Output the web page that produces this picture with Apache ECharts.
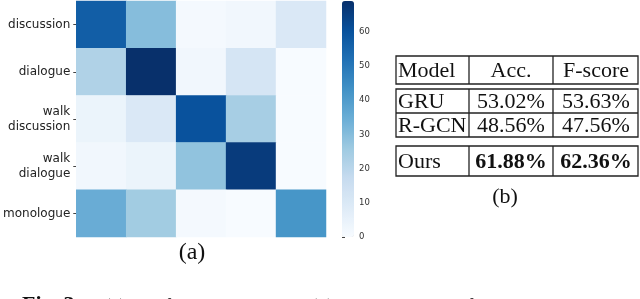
<!DOCTYPE html>
<html>
<head>
<meta charset="utf-8">
<script src="https://cdn.jsdelivr.net/npm/echarts@6/dist/echarts.min.js"></script>
<style>html,body{margin:0;padding:0;background:#fff;}#c{width:640px;height:299px;}</style>
</head>
<body>
<div id="c"></div>
<script>
// ---- data ----
const rowLabels = ['discussion', 'dialogue', 'walk\ndiscussion', 'walk\ndialogue', 'monologue'];
const colLabels = ['discussion', 'dialogue', 'walk discussion', 'walk dialogue', 'monologue'];
const rowDiscussion = [57, 30, 1, 2, 10];
const rowDialogue = [22, 69, 2, 12, 0];
const rowWalkDiscussion = [4, 10, 60, 24, 0];
const rowWalkDialogue = [2, 4, 28, 66, 0];
const rowMonologue = [35, 25, 1, 0, 42];
const colorbarTicks = [0, 10, 20, 30, 40, 50, 60];
const colorMax = 69;
const tableHeader = ['Model', 'Acc.', 'F-score'];
const tableModels = ['GRU', 'R-GCN', 'Ours'];
const tableAcc = ['53.02%', '48.56%', '61.88%'];
const tableF = ['53.63%', '47.56%', '62.36%'];
const panelA = '(a)';
const panelB = '(b)';
const caption = 'Fig. 3.';
const captionRest = '(a) Confusion matrix and (b) ablation study of our model.';

// ---- build ----
const matrix = [rowDiscussion, rowDialogue, rowWalkDiscussion, rowWalkDialogue, rowMonologue];
const heatData = [];
matrix.forEach((row, r) => row.forEach((v, c) => heatData.push([c, r, v])));
const blues = ['#f7fbff','#deebf7','#c6dbef','#9ecae1','#6baed6','#4292c6','#2171b5','#08519c','#08306b'];

// table layout
const colX = [396, 469, 553, 639];
const serif = '"Liberation Serif", "DejaVu Serif", serif';
const lineStyle = {stroke: '#222', lineWidth: 1.3, fill: null};
const blocks = [
  {top: 56, bottom: 84, rows: [[tableHeader[0], tableHeader[1], tableHeader[2], false]]},
  {top: 89, bottom: 137, rows: [[tableModels[0], tableAcc[0], tableF[0], false], [tableModels[1], tableAcc[1], tableF[1], false]]},
  {top: 146, bottom: 176, rows: [[tableModels[2], tableAcc[2], tableF[2], true]]}
];
const graphics = [];
blocks.forEach(b => {
  graphics.push({type: 'rect', shape: {x: colX[0], y: b.top, width: colX[3] - colX[0] - 1, height: b.bottom - b.top}, style: lineStyle, silent: true});
  graphics.push({type: 'line', shape: {x1: colX[1], y1: b.top, x2: colX[1], y2: b.bottom}, style: lineStyle, silent: true});
  graphics.push({type: 'line', shape: {x1: colX[2], y1: b.top, x2: colX[2], y2: b.bottom}, style: lineStyle, silent: true});
  const rh = (b.bottom - b.top) / b.rows.length;
  b.rows.forEach((row, i) => {
    if (i > 0) graphics.push({type: 'line', shape: {x1: colX[0], y1: b.top + rh * i, x2: colX[3] - 1, y2: b.top + rh * i}, style: lineStyle, silent: true});
    const cy = b.top + rh * i + rh / 2 + 1;
    graphics.push({type: 'text', x: colX[0] + 2, y: cy, style: {text: row[0], font: '22px ' + serif, fill: '#111', textAlign: 'left', textVerticalAlign: 'middle'}, silent: true});
    [1, 2].forEach(k => {
      graphics.push({type: 'text', x: (colX[k] + colX[k + 1]) / 2, y: cy, style: {text: row[k], font: (row[3] ? 'bold ' : '') + '22px ' + serif, fill: '#111', textAlign: 'center', textVerticalAlign: 'middle'}, silent: true});
    });
  });
});
graphics.push({type: 'text', x: 505, y: 197, style: {text: panelB, font: '22px ' + serif, fill: '#111', textAlign: 'center', textVerticalAlign: 'middle'}, silent: true});
graphics.push({type: 'text', x: 192, y: 253, style: {text: panelA, font: '24px ' + serif, fill: '#111', textAlign: 'center', textVerticalAlign: 'middle'}, silent: true});
graphics.push({type: 'text', x: 22, y: 294, style: {text: caption, font: 'bold 22px ' + serif, fill: '#111', textAlign: 'left', textVerticalAlign: 'top'}, silent: true});
graphics.push({type: 'text', x: 104, y: 297.5, style: {text: captionRest, font: '20px ' + serif, fill: '#333', textAlign: 'left', textVerticalAlign: 'top'}, silent: true});

const chart = echarts.init(document.getElementById('c'), null, {renderer: 'canvas'});
chart.setOption({
  animation: false,
  backgroundColor: '#fff',
  grid: [
    {left: 72, top: 1, width: 254, height: 236},
    {left: 342, top: 1, width: 12, height: 236}
  ],
  xAxis: [
    {type: 'category', gridIndex: 0, data: colLabels, show: false},
    {type: 'value', gridIndex: 1, show: false, min: 0, max: 1}
  ],
  yAxis: [
    {type: 'category', gridIndex: 0, data: rowLabels, inverse: true,
     axisLine: {show: false}, splitLine: {show: false},
     axisTick: {show: true, alignWithLabel: true, length: 3, lineStyle: {color: '#444'}},
     axisLabel: {fontFamily: '"DejaVu Sans", sans-serif', fontSize: 12, color: '#222', margin: 6, lineHeight: 15, align: 'right'}},
    {type: 'value', gridIndex: 1, position: 'right', min: 0, max: colorMax,
     axisLine: {show: false}, splitLine: {show: false},
     axisTick: {show: true, length: 3, customValues: colorbarTicks, lineStyle: {color: '#444'}},
     axisLabel: {fontFamily: '"DejaVu Sans", sans-serif', fontSize: 8.5, color: '#333', margin: 5, customValues: colorbarTicks}}
  ],
  visualMap: {
    type: 'continuous', seriesIndex: 0, dimension: 2, min: 0, max: colorMax,
    calculable: false, left: 342, top: 1, itemWidth: 12, itemHeight: 236, padding: 0,
    inRange: {color: blues}, text: null, hoverLink: false
  },
  series: [
    {type: 'heatmap', xAxisIndex: 0, yAxisIndex: 0, data: heatData, emphasis: {disabled: true}, itemStyle: {borderWidth: 0}},
    {type: 'line', xAxisIndex: 1, yAxisIndex: 1, data: [], silent: true}
  ],
  graphic: graphics
});
</script>
</body>
</html>
